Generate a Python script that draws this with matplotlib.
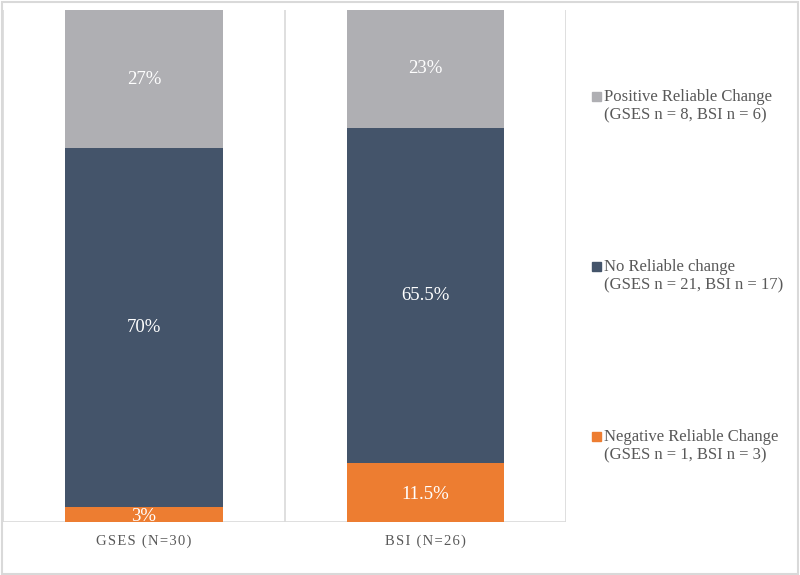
import numpy as np
import matplotlib
matplotlib.use("Agg")
from matplotlib import pyplot as plt
from matplotlib.patches import Rectangle

plt.rcParams['font.family'] = ['Liberation Serif', 'DejaVu Serif']

# data
groups = ['GSES (N=30)', 'BSI (N=26)']
negative = [3, 11.5]
no_change = [70, 65.5]
positive = [27, 23]
series_names = ['Positive Reliable Change\n(GSES n = 8, BSI n = 6)',
                'No Reliable change\n(GSES n = 21, BSI n = 17)',
                'Negative Reliable Change\n(GSES n = 1, BSI n = 3)']
neg_labels = ['3%', '11.5%']
no_labels = ['70%', '65.5%']
pos_labels = ['27%', '23%']

c_pos = '#AFAFB3'
c_no = '#44546A'
c_neg = '#ED7D31'

fig = plt.figure(figsize=(8, 5.75), dpi=100)
ax = fig.add_axes([0.004, 1 - 522 / 575, 0.704, 512 / 575])

x = np.arange(len(groups))
w = 0.56
neg = np.array(negative)
no = np.array(no_change)
pos = np.array(positive)
ax.bar(x, neg, w, color=c_neg, zorder=2)
ax.bar(x, no, w, bottom=neg, color=c_no, zorder=2)
ax.bar(x, pos, w, bottom=neg + no, color=c_pos, zorder=2)

for i in range(len(groups)):
    ax.text(x[i], neg[i] / 2 - 0.4, neg_labels[i], ha='center', va='center',
            color='white', fontsize=13.5, zorder=3)
    ax.text(x[i], neg[i] + no[i] / 2, no_labels[i], ha='center', va='center',
            color='white', fontsize=13.5, zorder=3)
    ax.text(x[i], neg[i] + no[i] + pos[i] / 2, pos_labels[i], ha='center', va='center',
            color='white', fontsize=13.5, zorder=3)

ax.set_xlim(-0.5, 1.5)
ax.set_ylim(0, 100)
for s in ax.spines.values():
    s.set_visible(False)
for xv in [-0.5, 0.5, 1.5]:
    ax.axvline(xv, color='#D9D9D9', lw=1.2, zorder=1)
ax.axhline(0, color='#D9D9D9', lw=1.2, zorder=1)
ax.set_yticks([])
ax.set_xticks(x)
# letter-spaced category labels
ax.set_xticklabels(['\u200a'.join(g) for g in groups], color='#595959', fontsize=10.5)
ax.tick_params(axis='x', length=0, pad=9)

# legend on the right
legend_y = [97, 267, 437]
colors = [c_pos, c_no, c_neg]
for name, yy, col in zip(series_names, legend_y, colors):
    fig.patches.append(Rectangle((592 / 800, 1 - (yy + 4) / 575), 9 / 800, 9 / 575,
                                 transform=fig.transFigure, color=col, figure=fig))
    fig.text(604 / 800, 1 - (yy + 9) / 575, name, ha='left', va='center',
             multialignment='left', color='#595959', fontsize=12, linespacing=1.15)

# outer border
fig.patches.append(Rectangle((0.002, 0.002), 0.996, 0.995, transform=fig.transFigure,
                             fill=False, edgecolor='#D9D9D9', lw=1.5, figure=fig))

fig.savefig('out.png', dpi=100)
